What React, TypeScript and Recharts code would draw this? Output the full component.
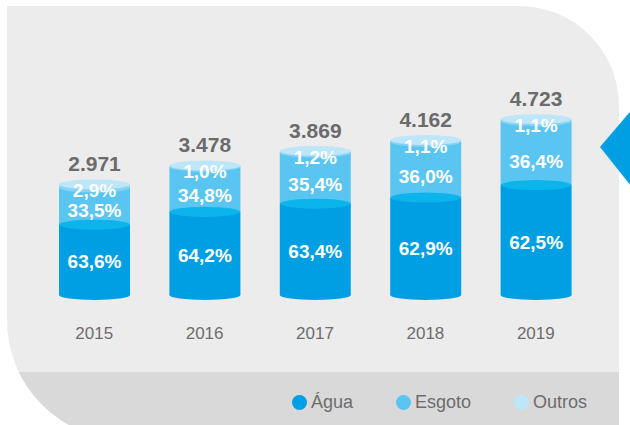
import { Bar, BarChart, LabelList, Legend, XAxis, YAxis } from 'recharts'

const YEARS = ['2015', '2016', '2017', '2018', '2019']
const TOTALS = [2971, 3478, 3869, 4162, 4723]
const AGUA = [63.6, 64.2, 63.4, 62.9, 62.5]
const ESGOTO = [33.5, 34.8, 35.4, 36.0, 36.4]
const OUTROS = [2.9, 1.0, 1.2, 1.1, 1.1]

const FONT = '"Liberation Sans", Arial, sans-serif'
const RY = 5

const SERIES = [
  { key: 'agua', name: 'Água', pct: AGUA, fill: '#009fe3', cap: '#0bb4eb', dot: '#009fe3' },
  { key: 'esgoto', name: 'Esgoto', pct: ESGOTO, fill: '#5bc5f2', cap: '#86d3f5', dot: '#5bc5f2' },
  { key: 'outros', name: 'Outros', pct: OUTROS, fill: '#a6dcf6', cap: '#bee6f9', dot: '#bee6f9' },
]

const data = YEARS.map((year, i) => {
  const row: Record<string, number | string> = { year, total: TOTALS[i] }
  SERIES.forEach((s) => {
    row[s.key] = (TOTALS[i] * s.pct[i]) / 100
    row[s.key + 'Pct'] = s.pct[i]
  })
  return row
})

const fmtPct = (v: number) => v.toFixed(1).replace('.', ',') + '%'
const fmtTotal = (v: number) => String(v).replace(/\B(?=(\d{3})+(?!\d))/g, '.')

// one slice of the cylinder: body, ellipse at its bottom (cap of the slice below), optional top cap
function Segment(props: any) {
  const { x, y, width, height, fill, below, top } = props
  const cx = x + width / 2
  const rx = width / 2
  return (
    <g>
      <rect x={x} y={y} width={width} height={height} fill={fill} />
      <ellipse cx={cx} cy={y + height} rx={rx} ry={RY} fill={below} />
      {top && <ellipse cx={cx} cy={y} rx={rx} ry={RY} fill={top} />}
    </g>
  )
}

// at = fraction of the slice height, dy = fixed offset from the slice top
function PctLabel(props: any) {
  const { x, y, width, height, value, dy, at = 0.5 } = props
  const cy = dy === undefined ? y + height * at : y + dy
  return (
    <text
      x={x + width / 2}
      y={cy}
      dy="0.36em"
      textAnchor="middle"
      fill="#ffffff"
      fontSize={19}
      fontWeight="bold"
      fontFamily={FONT}
    >
      {fmtPct(Number(value))}
    </text>
  )
}

function TotalLabel(props: any) {
  const { x, y, width, value } = props
  return (
    <text
      x={x + width / 2}
      y={y - 21}
      dy="0.36em"
      textAnchor="middle"
      fill="#6b6b6b"
      fontSize={21}
      fontWeight="bold"
      fontFamily={FONT}
    >
      {fmtTotal(Number(value))}
    </text>
  )
}

function LegendContent({ payload }: any) {
  const items = [...(payload || [])].sort(
    (a: any, b: any) =>
      SERIES.findIndex((s) => s.name === a.value) - SERIES.findIndex((s) => s.name === b.value)
  )
  return (
    <div style={{ display: 'flex', alignItems: 'center', gap: 43, fontFamily: FONT }}>
      {items.map((p: any) => {
        const s = SERIES.find((item) => item.name === p.value)
        return (
          <div key={p.value} style={{ display: 'flex', alignItems: 'center', gap: 4 }}>
            <span
              style={{
                display: 'inline-block',
                width: 15,
                height: 15,
                borderRadius: '50%',
                background: s ? s.dot : p.color,
              }}
            />
            <span style={{ fontSize: 18, color: '#6d6d6d', lineHeight: '21px' }}>{p.value}</span>
          </div>
        )
      })}
    </div>
  )
}

const PANEL =
  'M7,6 H519 A100,100 0 0 1 619,106 V440 H127 A120,120 0 0 1 7,320 Z'

export default function App() {
  return (
    <div style={{ position: 'relative', width: 630, height: 425, fontFamily: FONT, background: '#fff' }}>
      <style>{'body{margin:0}'}</style>
      <svg width={630} height={425} style={{ position: 'absolute', left: 0, top: 0 }}>
        <defs>
          <clipPath id="panelClip">
            <path d={PANEL} />
          </clipPath>
        </defs>
        <path d={PANEL} fill="#ececec" />
        <rect x={0} y={372} width={630} height={60} fill="#d9d9d9" clipPath="url(#panelClip)" />
        <polygon points="600,147 635,106 635,191" fill="#009fe3" />
      </svg>
      <div style={{ position: 'absolute', left: 0, top: 0 }}>
        <BarChart
          width={630}
          height={425}
          data={data}
          margin={{ top: 94, right: 39, bottom: 90, left: 39 }}
          barSize={71}
        >
          <XAxis
            dataKey="year"
            axisLine={false}
            tickLine={false}
            tickSize={0}
            tickMargin={32}
            height={40}
            tick={{ fill: '#6d6d6d', fontSize: 17, fontFamily: FONT }}
          />
          <YAxis hide domain={[0, 5400]} />
          <Legend
            layout="horizontal"
            verticalAlign="middle"
            align="center"
            content={<LegendContent />}
            wrapperStyle={{ top: 392, left: 292, width: 330, height: 22 }}
          />
          <Bar
            dataKey="agua"
            name="Água"
            stackId="a"
            fill={SERIES[0].fill}
            isAnimationActive={false}
            shape={(p: any) => <Segment {...p} fill={SERIES[0].fill} below={SERIES[0].fill} />}
          >
            <LabelList dataKey="aguaPct" content={<PctLabel at={0.52} />} />
          </Bar>
          <Bar
            dataKey="esgoto"
            name="Esgoto"
            stackId="a"
            fill={SERIES[1].fill}
            isAnimationActive={false}
            shape={(p: any) => <Segment {...p} fill={SERIES[1].fill} below={SERIES[0].cap} />}
          >
            <LabelList dataKey="esgotoPct" content={<PctLabel at={0.62} />} />
          </Bar>
          <Bar
            dataKey="outros"
            name="Outros"
            stackId="a"
            fill={SERIES[2].fill}
            isAnimationActive={false}
            shape={(p: any) => (
              <Segment {...p} fill={SERIES[2].fill} below={SERIES[1].cap} top={SERIES[2].cap} />
            )}
          >
            <LabelList dataKey="outrosPct" content={<PctLabel dy={6} />} />
            <LabelList dataKey="total" content={<TotalLabel />} />
          </Bar>
        </BarChart>
      </div>
    </div>
  )
}
